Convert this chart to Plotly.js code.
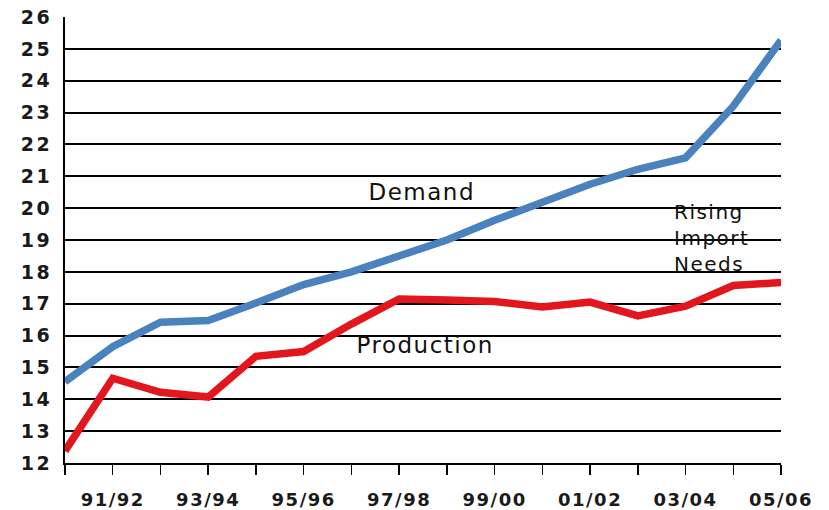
<!DOCTYPE html>
<html>
<head>
<meta charset="utf-8">
<script src="https://cdn.plot.ly/plotly-3.0.1.min.js"></script>
<style>
  html, body { margin: 0; padding: 0; background: #ffffff; }
  #chart { width: 829px; height: 510px; }
  #chart .xtick text { letter-spacing: 1.5px; }
  #chart .ytick text { letter-spacing: 2.5px; }
  #chart .annotation-text { letter-spacing: 1.5px; }
</style>
</head>
<body>
<div id="chart"></div>
<script>
// Fiscal years (categories)
const years = ['90/91','91/92','92/93','93/94','94/95','95/96','96/97','97/98',
               '98/99','99/00','00/01','01/02','02/03','03/04','04/05','05/06'];
// Tick labels shown under the axis (every other year)
const yearLabels = ['','91/92','','93/94','','95/96','','97/98',
                    '','99/00','','01/02','','03/04','','05/06'];
// Demand series
const demand = [14.55, 15.65, 16.42, 16.47, 17.02, 17.6, 18.0, 18.48,
                19.0, 19.62, 20.2, 20.75, 21.22, 21.58, 23.2, 25.27];
// Production series
const production = [12.38, 14.66, 14.22, 14.07, 15.35, 15.5, 16.36, 17.15,
                    17.12, 17.07, 16.9, 17.05, 16.62, 16.92, 17.57, 17.67];
// Y-axis ticks
const yTicks = [12,13,14,15,16,17,18,19,20,21,22,23,24,25,26];

const traces = [
  { x: years, y: demand, type: 'scatter', mode: 'lines', name: 'Demand',
    line: { color: '#4a82be', width: 7.5 }, cliponaxis: false, hoverinfo: 'skip' },
  { x: years, y: production, type: 'scatter', mode: 'lines', name: 'Production',
    line: { color: '#e2161c', width: 7.5 }, cliponaxis: false, hoverinfo: 'skip' }
];

const xTickFont = { family: 'DejaVu Sans', size: 18, color: '#1a1a1a', weight: 'bold' };
const yTickFont = { family: 'DejaVu Sans', size: 19, color: '#1a1a1a', weight: 'bold' };
const noteFont = { family: 'DejaVu Sans', size: 23, color: '#111111' };

const layout = {
  width: 829, height: 510,
  margin: { l: 65, r: 48, t: 17, b: 47 },
  paper_bgcolor: '#ffffff', plot_bgcolor: '#ffffff',
  showlegend: false,
  xaxis: {
    type: 'category', categoryorder: 'array', categoryarray: years,
    range: [0, 15], autorange: false,
    tickmode: 'array', tickvals: years, ticktext: yearLabels,
    ticks: 'outside', ticklen: 10, tickwidth: 1.5, tickcolor: '#000000',
    showgrid: false, zeroline: false,
    showline: true, linecolor: '#000000', linewidth: 2,
    tickfont: xTickFont, ticklabelstandoff: 9, fixedrange: true
  },
  yaxis: {
    range: [12, 26], autorange: false,
    tickmode: 'array', tickvals: yTicks,
    ticks: '', showgrid: true, gridcolor: '#000000', gridwidth: 2,
    zeroline: false, showline: true, linecolor: '#000000', linewidth: 2,
    tickfont: yTickFont, ticklabelstandoff: 7, fixedrange: true
  },
  annotations: [
    { text: 'Demand', x: 7.48, y: 20.5, xref: 'x', yref: 'y',
      showarrow: false, font: noteFont, xanchor: 'center', yanchor: 'middle' },
    { text: 'Production', x: 7.54, y: 15.7, xref: 'x', yref: 'y',
      showarrow: false, font: noteFont, xanchor: 'center', yanchor: 'middle' },
    { text: 'Rising<br>Import<br>Needs', x: 12.72, y: 19.07, xref: 'x', yref: 'y',
      showarrow: false, align: 'left', xanchor: 'left', yanchor: 'middle',
      font: { family: 'DejaVu Sans', size: 20, color: '#111111' } }
  ]
};

Plotly.newPlot('chart', traces, layout, { displayModeBar: false, staticPlot: true });
</script>
</body>
</html>
